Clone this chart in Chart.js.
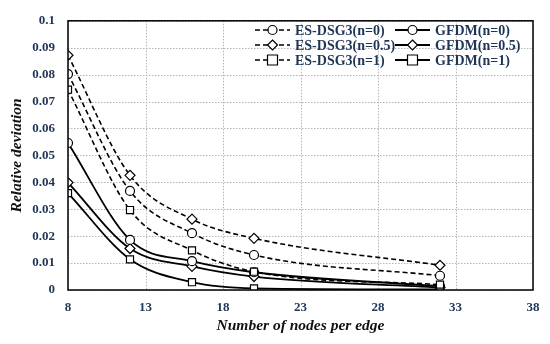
<!DOCTYPE html>
<html><head><meta charset="utf-8">
<script src="https://cdn.jsdelivr.net/npm/chart.js@4/dist/chart.umd.min.js"></script>
<style>html,body{margin:0;padding:0;background:#fff}#wrap{width:550px;height:344px}</style>
</head><body><div id="wrap"><canvas id="c" width="550" height="344"></canvas></div>
<script>
const nodes = [8, 12, 16, 20, 32];
const esN0   = [0.0802, 0.0368, 0.0211, 0.0130, 0.0053];
const esN05  = [0.0872, 0.0426, 0.0263, 0.0192, 0.0092];
const esN1   = [0.0744, 0.0297, 0.0147, 0.0068, 0.0020];
const gfN0   = [0.0546, 0.0186, 0.0107, 0.0066, 0.0014];
const gfN05  = [0.0399, 0.0154, 0.0088, 0.0050, 0.0009];
const gfN1   = [0.0360, 0.0114, 0.0029, 0.0006, 0.0002];
const xTicks = [8, 13, 18, 23, 28, 33, 38];
const yTicks = ['0','0.01','0.02','0.03','0.04','0.05','0.06','0.07','0.08','0.09','0.1'];
const labels = ['ES-DSG3(n=0)','ES-DSG3(n=0.5)','ES-DSG3(n=1)','GFDM(n=0)','GFDM(n=0.5)','GFDM(n=1)'];

const navy = '#1f3556';
const serif = "'Liberation Serif', 'DejaVu Serif', serif";

function ds(label, vals, style, dashed){
  return {
    label, data: nodes.map((x,i)=>({x, y: vals[i]})),
    borderColor:'#000', backgroundColor:'#fff',
    borderWidth: dashed ? 1.6 : 1.8,
    borderDash: dashed ? [5,3] : [],
    pointStyle: style, pointRadius: style==='rect' ? 5 : (style==='rectRot'?5:4.5),
    pointBorderWidth: 1.2, pointBorderColor:'#000', pointBackgroundColor:'#fff',
    tension: 0.4, cubicInterpolationMode:'monotone', fill:false
  };
}

function drawMarker(ctx, style, x, y){
  ctx.save(); ctx.setLineDash([]); ctx.lineWidth=1.2; ctx.strokeStyle='#000'; ctx.fillStyle='#fff';
  ctx.beginPath();
  if(style==='circle'){ ctx.arc(x,y,4.5,0,Math.PI*2); }
  else if(style==='rect'){ ctx.rect(x-5,y-5,10,10); }
  else { ctx.moveTo(x,y-5); ctx.lineTo(x+5,y); ctx.lineTo(x,y+5); ctx.lineTo(x-5,y); ctx.closePath(); }
  ctx.fill(); ctx.stroke(); ctx.restore();
}

const framePlugin = {
  id:'frame',
  beforeDatasetsDraw(chart){
    const {ctx, chartArea:a, scales} = chart;
    ctx.save(); ctx.strokeStyle='#b4b4b4'; ctx.lineWidth=1; ctx.setLineDash([1.5,1.5]);
    xTicks.forEach(v=>{ const px=Math.round(scales.x.getPixelForValue(v))+0.5;
      ctx.beginPath(); ctx.moveTo(px,a.top); ctx.lineTo(px,a.bottom); ctx.stroke(); });
    yTicks.forEach(t=>{ const py=Math.round(scales.y.getPixelForValue(parseFloat(t)))+0.5;
      ctx.beginPath(); ctx.moveTo(a.left,py); ctx.lineTo(a.right,py); ctx.stroke(); });
    ctx.restore();
  },
  afterDatasetsDraw(chart){
    const {ctx, chartArea:a} = chart;
    ctx.save(); ctx.strokeStyle='#000'; ctx.lineWidth=1.5; ctx.setLineDash([]);
    ctx.strokeRect(a.left, a.top, a.right-a.left, a.bottom-a.top);
    const cols = [{sx:255, tx:295}, {sx:395, tx:435}];
    const rows = [30, 45, 60];
    ctx.font = "bold 14px " + serif; ctx.textBaseline='middle'; ctx.textAlign='left';
    chart.data.datasets.forEach((d,i)=>{
      const c = cols[Math.floor(i/3)], y = rows[i%3];
      ctx.beginPath(); ctx.strokeStyle='#000'; ctx.lineWidth=d.borderWidth; ctx.setLineDash(d.borderDash);
      ctx.moveTo(c.sx, y); ctx.lineTo(c.sx+35, y); ctx.stroke();
      drawMarker(ctx, d.pointStyle, c.sx+17.5, y);
      ctx.fillStyle = navy; ctx.fillText(d.label, c.tx, y+1);
    });
    ctx.restore();
  }
};

new Chart(document.getElementById('c'), {
  type:'line',
  data:{ datasets:[
    ds(labels[0], esN0, 'circle', true),
    ds(labels[1], esN05, 'rectRot', true),
    ds(labels[2], esN1, 'rect', true),
    ds(labels[3], gfN0, 'circle', false),
    ds(labels[4], gfN05, 'rectRot', false),
    ds(labels[5], gfN1, 'rect', false)
  ]},
  options:{
    responsive:false, animation:false, devicePixelRatio:1,
    layout:{ padding:{ top:14, right:17, left:0, bottom:0 } },
    plugins:{ legend:{display:false}, tooltip:{enabled:false} },
    scales:{
      x:{ type:'linear', min:8, max:38,
        afterBuildTicks(s){ s.ticks = xTicks.map(v=>({value:v})); },
        afterFit(s){ s.height = 54; },
        grid:{ display:false, drawTicks:false },
        border:{ display:false },
        ticks:{ color:navy, font:{family:serif, size:13, weight:'bold'}, padding:10, maxRotation:0,
          callback:(v)=>String(v) },
        title:{ display:true, text:'Number of nodes per edge', color:'#111',
          font:{family:serif, size:15.5, weight:'bold', style:'italic'}, padding:{top:0,bottom:9} }
      },
      y:{ type:'linear', min:0, max:0.1,
        afterBuildTicks(s){ s.ticks = yTicks.map(t=>({value:parseFloat(t)})); },
        afterFit(s){ s.width = 68; },
        grid:{ display:false, drawTicks:false },
        border:{ display:false },
        ticks:{ color:navy, font:{family:serif, size:13, weight:'bold'}, padding:13,
          callback:(v,i)=>yTicks[i] },
        title:{ display:true, text:'Relative deviation', color:'#111',
          font:{family:serif, size:15.5, weight:'bold', style:'italic'}, padding:{top:8,bottom:0} }
      }
    }
  },
  plugins:[framePlugin]
});
</script></body></html>
